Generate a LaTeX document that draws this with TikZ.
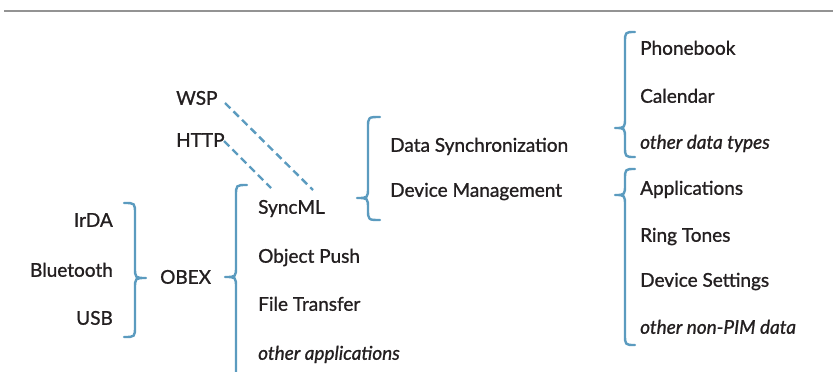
\documentclass[tikz,border=0pt]{standalone}
\usepackage{fontspec}
\setmainfont{Lato}[FakeBold=1.1]
\definecolor{txt}{HTML}{231F20}
\definecolor{brc}{HTML}{5B9BBF}
\definecolor{rule}{HTML}{939393}
\begin{document}
\begin{tikzpicture}[x=1pt,y=-1pt,
  lbl/.style={inner sep=0pt,text height=13.5pt,text depth=0pt,text=txt,font=\fontsize{19}{22}\selectfont},
  lft/.style={lbl,anchor=west},
  rgt/.style={lbl,anchor=east},
  itl/.style={lft,font=\fontsize{19}{22}\selectfont\itshape},
  brace/.style={draw=brc,line width=2.4pt,line cap=round,line join=round},
  dsh/.style={draw=brc,line width=2.4pt,dash pattern=on 7.5pt off 4.5pt}]
\useasboundingbox (0,0) rectangle (833,372);
\draw[draw=rule,line width=2pt] (4,11) -- (833,11);
% left column
\node[rgt] (irda) at (113,220) {IrDA};
\node[rgt] (bt) at (113,270) {Bluetooth};
\node[rgt] (usb) at (113,318) {USB};
\node[lft] (obex) at (160,277) {OBEX};
\node[lft] (syncml) at (258,207) {SyncML};
\node[lft] (push) at (258,256) {Object Push};
\node[lft] (ft) at (258,304) {File Transfer};
\node[itl] (oapp) at (258,353) {other applications};
\node[lft] (wsp) at (176,98) {WSP};
\node[lft] (http) at (176,140) {HTTP};
\node[lft] (ds) at (390,145) {Data Synchronization};
\node[lft] (dm) at (390,190) {Device Management};
\node[lft] (pb) at (640,48) {Phonebook};
\node[lft] (cal) at (640,96) {Calendar};
\node[itl] (odt) at (640,142) {other data types};
\node[lft] (apps) at (640,188) {Applications};
\node[lft] (rt) at (640,235) {Ring Tones};
\node[lft] (dset) at (640,280) {Device Settings};
\node[itl] (onp) at (640,327) {other non-PIM data};
% dashed links
\coordinate (wspstart) at (225,103);
\coordinate (httpstart) at (224,141);
\coordinate (wspend) at (313,190);
\coordinate (httpend) at (271,188);
\draw[dsh] (wspstart) -- (wspend);
\draw[dsh] (httpstart) -- (httpend);
% brace 1 (right brace)
\draw[brace] (124,203) .. controls (135,203) .. (135,214) -- (135,267) .. controls (135,278) .. (146,278) .. controls (135,278) .. (135,289) -- (135,326) .. controls (135,337) .. (124,337);
% brace 2 (left brace)
\draw[brace] (247,185) .. controls (236,185) .. (236,196) -- (236,266) .. controls (236,277) .. (225,277) .. controls (236,277) .. (236,288) -- (236,372);
% brace 3
\draw[brace] (380,117) .. controls (368,117) .. (368,128) -- (368,187) .. controls (368,198) .. (357,198) .. controls (368,198) .. (368,209) -- (368,209) .. controls (368,220) .. (380,220);
% brace 4
\draw[brace] (635,32) .. controls (625,32) .. (625,43) -- (625,117) .. controls (625,128) .. (615,128) .. controls (625,128) .. (625,139) -- (625,146) .. controls (625,157) .. (635,157);
% brace 5
\draw[brace] (635,169) .. controls (625,169) .. (625,180) -- (625,184) .. controls (625,195) .. (615,195) .. controls (625,195) .. (625,206) -- (625,334) .. controls (625,345) .. (635,345);
\end{tikzpicture}
\end{document}
